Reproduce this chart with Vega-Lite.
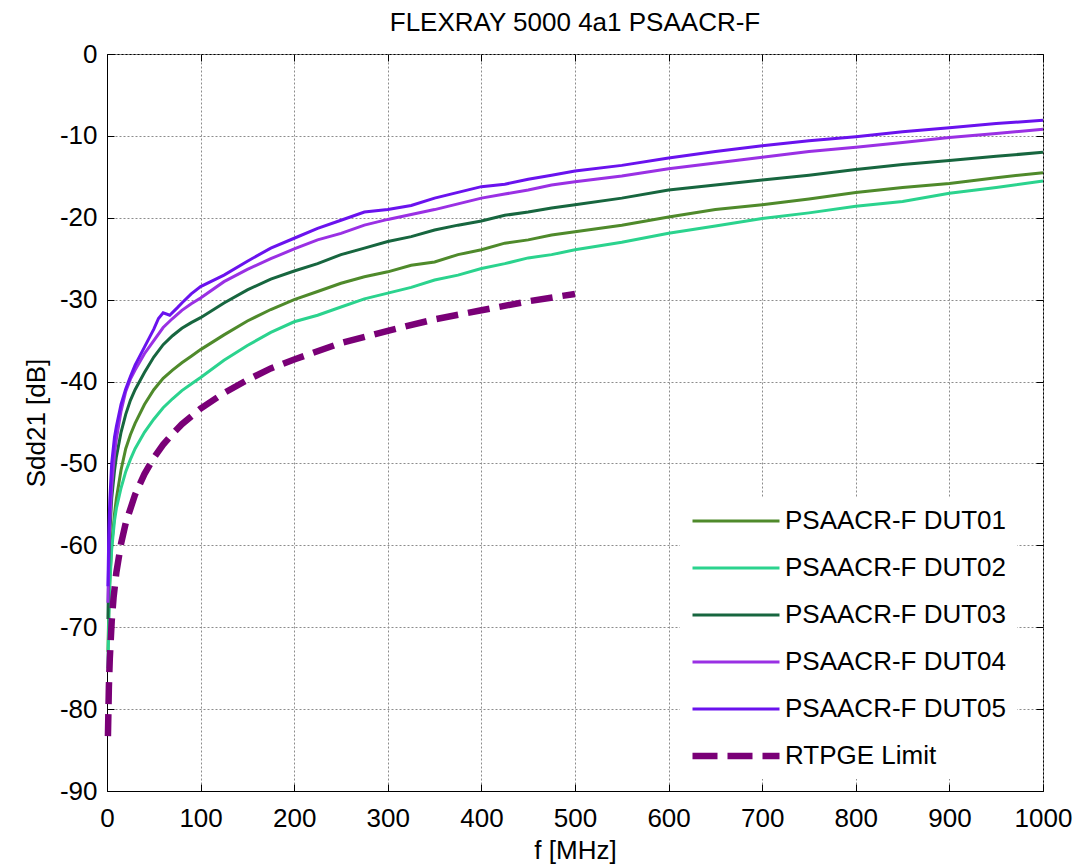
{
  "$schema": "https://vega.github.io/schema/vega-lite/v6.json",
  "autosize": "none",
  "width": 936,
  "height": 737,
  "padding": {"left": 107, "top": 54, "right": 31, "bottom": 73},
  "background": "white",
  "title": {"text": "FLEXRAY 5000 4a1 PSAACR-F", "font": "Liberation Sans", "fontSize": 26, "fontWeight": "normal", "color": "black", "offset": 5, "anchor": "middle"},
  "config": {
    "view": {"stroke": "black", "strokeWidth": 1},
    "axis": {
      "labelFont": "Liberation Sans", "labelFontSize": 26, "labelColor": "black", "labelFlush": false,
      "titleFont": "Liberation Sans", "titleFontSize": 26, "titleFontWeight": "normal", "titleColor": "black",
      "domainColor": "black", "tickColor": "black", "tickSize": -7,
      "gridColor": "#8c8c8c", "gridDash": [2, 2], "gridWidth": 1, "gridOpacity": 1
    },
    "legend": {"labelFont": "Liberation Sans", "labelFontSize": 26, "labelColor": "black"}
  },
  "datasets": {
    "dut": [
      {"s":"PSAACR-F DUT01","f":1,"v":-73},{"s":"PSAACR-F DUT01","f":2,"v":-67.5},{"s":"PSAACR-F DUT01","f":3,"v":-64.2},{"s":"PSAACR-F DUT01","f":5,"v":-60.0},{"s":"PSAACR-F DUT01","f":8,"v":-56.2},{"s":"PSAACR-F DUT01","f":10,"v":-54.3},{"s":"PSAACR-F DUT01","f":15,"v":-50.8},{"s":"PSAACR-F DUT01","f":20,"v":-48.2},{"s":"PSAACR-F DUT01","f":25,"v":-46.5},{"s":"PSAACR-F DUT01","f":30,"v":-45.1},{"s":"PSAACR-F DUT01","f":40,"v":-42.8},{"s":"PSAACR-F DUT01","f":50,"v":-41.0},{"s":"PSAACR-F DUT01","f":60,"v":-39.6},{"s":"PSAACR-F DUT01","f":70,"v":-38.6},{"s":"PSAACR-F DUT01","f":80,"v":-37.7},{"s":"PSAACR-F DUT01","f":90,"v":-36.9},{"s":"PSAACR-F DUT01","f":100,"v":-36.1},{"s":"PSAACR-F DUT01","f":125,"v":-34.3},{"s":"PSAACR-F DUT01","f":150,"v":-32.6},{"s":"PSAACR-F DUT01","f":175,"v":-31.2},{"s":"PSAACR-F DUT01","f":200,"v":-30.0},{"s":"PSAACR-F DUT01","f":225,"v":-29.0},{"s":"PSAACR-F DUT01","f":250,"v":-28.0},{"s":"PSAACR-F DUT01","f":275,"v":-27.2},{"s":"PSAACR-F DUT01","f":300,"v":-26.6},{"s":"PSAACR-F DUT01","f":325,"v":-25.8},{"s":"PSAACR-F DUT01","f":350,"v":-25.4},{"s":"PSAACR-F DUT01","f":375,"v":-24.5},{"s":"PSAACR-F DUT01","f":400,"v":-23.9},{"s":"PSAACR-F DUT01","f":425,"v":-23.1},{"s":"PSAACR-F DUT01","f":450,"v":-22.7},{"s":"PSAACR-F DUT01","f":475,"v":-22.1},{"s":"PSAACR-F DUT01","f":500,"v":-21.7},{"s":"PSAACR-F DUT01","f":550,"v":-20.9},{"s":"PSAACR-F DUT01","f":600,"v":-19.9},{"s":"PSAACR-F DUT01","f":650,"v":-19.0},{"s":"PSAACR-F DUT01","f":700,"v":-18.4},{"s":"PSAACR-F DUT01","f":750,"v":-17.7},{"s":"PSAACR-F DUT01","f":800,"v":-16.9},{"s":"PSAACR-F DUT01","f":850,"v":-16.3},{"s":"PSAACR-F DUT01","f":900,"v":-15.8},{"s":"PSAACR-F DUT01","f":950,"v":-15.1},{"s":"PSAACR-F DUT01","f":1000,"v":-14.5},
      {"s":"PSAACR-F DUT02","f":1,"v":-75},{"s":"PSAACR-F DUT02","f":2,"v":-68.5},{"s":"PSAACR-F DUT02","f":3,"v":-64.8},{"s":"PSAACR-F DUT02","f":5,"v":-60.5},{"s":"PSAACR-F DUT02","f":8,"v":-57.0},{"s":"PSAACR-F DUT02","f":10,"v":-55.5},{"s":"PSAACR-F DUT02","f":15,"v":-53.0},{"s":"PSAACR-F DUT02","f":20,"v":-51.0},{"s":"PSAACR-F DUT02","f":25,"v":-49.5},{"s":"PSAACR-F DUT02","f":30,"v":-48.2},{"s":"PSAACR-F DUT02","f":40,"v":-46.2},{"s":"PSAACR-F DUT02","f":50,"v":-44.6},{"s":"PSAACR-F DUT02","f":60,"v":-43.2},{"s":"PSAACR-F DUT02","f":70,"v":-42.1},{"s":"PSAACR-F DUT02","f":80,"v":-41.1},{"s":"PSAACR-F DUT02","f":90,"v":-40.3},{"s":"PSAACR-F DUT02","f":100,"v":-39.5},{"s":"PSAACR-F DUT02","f":125,"v":-37.4},{"s":"PSAACR-F DUT02","f":150,"v":-35.6},{"s":"PSAACR-F DUT02","f":175,"v":-34.0},{"s":"PSAACR-F DUT02","f":200,"v":-32.7},{"s":"PSAACR-F DUT02","f":225,"v":-31.9},{"s":"PSAACR-F DUT02","f":250,"v":-30.9},{"s":"PSAACR-F DUT02","f":275,"v":-29.9},{"s":"PSAACR-F DUT02","f":300,"v":-29.2},{"s":"PSAACR-F DUT02","f":325,"v":-28.5},{"s":"PSAACR-F DUT02","f":350,"v":-27.6},{"s":"PSAACR-F DUT02","f":375,"v":-27.0},{"s":"PSAACR-F DUT02","f":400,"v":-26.2},{"s":"PSAACR-F DUT02","f":425,"v":-25.6},{"s":"PSAACR-F DUT02","f":450,"v":-24.9},{"s":"PSAACR-F DUT02","f":475,"v":-24.5},{"s":"PSAACR-F DUT02","f":500,"v":-23.9},{"s":"PSAACR-F DUT02","f":550,"v":-23.0},{"s":"PSAACR-F DUT02","f":600,"v":-21.9},{"s":"PSAACR-F DUT02","f":650,"v":-21.0},{"s":"PSAACR-F DUT02","f":700,"v":-20.1},{"s":"PSAACR-F DUT02","f":750,"v":-19.4},{"s":"PSAACR-F DUT02","f":800,"v":-18.6},{"s":"PSAACR-F DUT02","f":850,"v":-18.0},{"s":"PSAACR-F DUT02","f":900,"v":-17.0},{"s":"PSAACR-F DUT02","f":950,"v":-16.3},{"s":"PSAACR-F DUT02","f":1000,"v":-15.5},
      {"s":"PSAACR-F DUT03","f":1,"v":-69},{"s":"PSAACR-F DUT03","f":2,"v":-62},{"s":"PSAACR-F DUT03","f":3,"v":-58.5},{"s":"PSAACR-F DUT03","f":5,"v":-54.3},{"s":"PSAACR-F DUT03","f":8,"v":-50.9},{"s":"PSAACR-F DUT03","f":10,"v":-49.2},{"s":"PSAACR-F DUT03","f":15,"v":-46.2},{"s":"PSAACR-F DUT03","f":20,"v":-44.0},{"s":"PSAACR-F DUT03","f":25,"v":-42.3},{"s":"PSAACR-F DUT03","f":30,"v":-41.0},{"s":"PSAACR-F DUT03","f":40,"v":-38.9},{"s":"PSAACR-F DUT03","f":50,"v":-37.0},{"s":"PSAACR-F DUT03","f":60,"v":-35.5},{"s":"PSAACR-F DUT03","f":70,"v":-34.4},{"s":"PSAACR-F DUT03","f":80,"v":-33.5},{"s":"PSAACR-F DUT03","f":90,"v":-32.8},{"s":"PSAACR-F DUT03","f":100,"v":-32.2},{"s":"PSAACR-F DUT03","f":125,"v":-30.4},{"s":"PSAACR-F DUT03","f":150,"v":-28.8},{"s":"PSAACR-F DUT03","f":175,"v":-27.5},{"s":"PSAACR-F DUT03","f":200,"v":-26.5},{"s":"PSAACR-F DUT03","f":225,"v":-25.6},{"s":"PSAACR-F DUT03","f":250,"v":-24.5},{"s":"PSAACR-F DUT03","f":275,"v":-23.7},{"s":"PSAACR-F DUT03","f":300,"v":-22.9},{"s":"PSAACR-F DUT03","f":325,"v":-22.3},{"s":"PSAACR-F DUT03","f":350,"v":-21.5},{"s":"PSAACR-F DUT03","f":375,"v":-20.9},{"s":"PSAACR-F DUT03","f":400,"v":-20.4},{"s":"PSAACR-F DUT03","f":425,"v":-19.7},{"s":"PSAACR-F DUT03","f":450,"v":-19.3},{"s":"PSAACR-F DUT03","f":475,"v":-18.8},{"s":"PSAACR-F DUT03","f":500,"v":-18.4},{"s":"PSAACR-F DUT03","f":550,"v":-17.6},{"s":"PSAACR-F DUT03","f":600,"v":-16.6},{"s":"PSAACR-F DUT03","f":650,"v":-16.0},{"s":"PSAACR-F DUT03","f":700,"v":-15.4},{"s":"PSAACR-F DUT03","f":750,"v":-14.8},{"s":"PSAACR-F DUT03","f":800,"v":-14.1},{"s":"PSAACR-F DUT03","f":850,"v":-13.5},{"s":"PSAACR-F DUT03","f":900,"v":-13.0},{"s":"PSAACR-F DUT03","f":950,"v":-12.5},{"s":"PSAACR-F DUT03","f":1000,"v":-12.0},
      {"s":"PSAACR-F DUT04","f":1,"v":-67},{"s":"PSAACR-F DUT04","f":2,"v":-60.5},{"s":"PSAACR-F DUT04","f":3,"v":-57.1},{"s":"PSAACR-F DUT04","f":5,"v":-52.8},{"s":"PSAACR-F DUT04","f":8,"v":-48.9},{"s":"PSAACR-F DUT04","f":10,"v":-47.0},{"s":"PSAACR-F DUT04","f":15,"v":-43.6},{"s":"PSAACR-F DUT04","f":20,"v":-41.2},{"s":"PSAACR-F DUT04","f":25,"v":-39.7},{"s":"PSAACR-F DUT04","f":30,"v":-38.6},{"s":"PSAACR-F DUT04","f":40,"v":-36.6},{"s":"PSAACR-F DUT04","f":50,"v":-35.0},{"s":"PSAACR-F DUT04","f":60,"v":-33.4},{"s":"PSAACR-F DUT04","f":70,"v":-32.3},{"s":"PSAACR-F DUT04","f":80,"v":-31.3},{"s":"PSAACR-F DUT04","f":90,"v":-30.5},{"s":"PSAACR-F DUT04","f":100,"v":-29.8},{"s":"PSAACR-F DUT04","f":125,"v":-27.8},{"s":"PSAACR-F DUT04","f":150,"v":-26.3},{"s":"PSAACR-F DUT04","f":175,"v":-25.0},{"s":"PSAACR-F DUT04","f":200,"v":-23.8},{"s":"PSAACR-F DUT04","f":225,"v":-22.7},{"s":"PSAACR-F DUT04","f":250,"v":-21.9},{"s":"PSAACR-F DUT04","f":275,"v":-20.9},{"s":"PSAACR-F DUT04","f":300,"v":-20.2},{"s":"PSAACR-F DUT04","f":325,"v":-19.6},{"s":"PSAACR-F DUT04","f":350,"v":-19.0},{"s":"PSAACR-F DUT04","f":375,"v":-18.3},{"s":"PSAACR-F DUT04","f":400,"v":-17.6},{"s":"PSAACR-F DUT04","f":425,"v":-17.1},{"s":"PSAACR-F DUT04","f":450,"v":-16.6},{"s":"PSAACR-F DUT04","f":475,"v":-16.0},{"s":"PSAACR-F DUT04","f":500,"v":-15.6},{"s":"PSAACR-F DUT04","f":550,"v":-14.9},{"s":"PSAACR-F DUT04","f":600,"v":-14.0},{"s":"PSAACR-F DUT04","f":650,"v":-13.3},{"s":"PSAACR-F DUT04","f":700,"v":-12.6},{"s":"PSAACR-F DUT04","f":750,"v":-11.9},{"s":"PSAACR-F DUT04","f":800,"v":-11.4},{"s":"PSAACR-F DUT04","f":850,"v":-10.8},{"s":"PSAACR-F DUT04","f":900,"v":-10.2},{"s":"PSAACR-F DUT04","f":950,"v":-9.7},{"s":"PSAACR-F DUT04","f":1000,"v":-9.2},
      {"s":"PSAACR-F DUT05","f":1,"v":-65},{"s":"PSAACR-F DUT05","f":2,"v":-58},{"s":"PSAACR-F DUT05","f":3,"v":-54.5},{"s":"PSAACR-F DUT05","f":5,"v":-50},{"s":"PSAACR-F DUT05","f":8,"v":-46.8},{"s":"PSAACR-F DUT05","f":10,"v":-45.5},{"s":"PSAACR-F DUT05","f":15,"v":-42.8},{"s":"PSAACR-F DUT05","f":20,"v":-40.9},{"s":"PSAACR-F DUT05","f":25,"v":-39.4},{"s":"PSAACR-F DUT05","f":30,"v":-38.0},{"s":"PSAACR-F DUT05","f":40,"v":-35.8},{"s":"PSAACR-F DUT05","f":50,"v":-33.6},{"s":"PSAACR-F DUT05","f":55,"v":-32.3},{"s":"PSAACR-F DUT05","f":60,"v":-31.6},{"s":"PSAACR-F DUT05","f":67,"v":-31.9},{"s":"PSAACR-F DUT05","f":75,"v":-31.0},{"s":"PSAACR-F DUT05","f":80,"v":-30.4},{"s":"PSAACR-F DUT05","f":90,"v":-29.3},{"s":"PSAACR-F DUT05","f":100,"v":-28.4},{"s":"PSAACR-F DUT05","f":125,"v":-27.0},{"s":"PSAACR-F DUT05","f":150,"v":-25.3},{"s":"PSAACR-F DUT05","f":175,"v":-23.7},{"s":"PSAACR-F DUT05","f":200,"v":-22.5},{"s":"PSAACR-F DUT05","f":225,"v":-21.3},{"s":"PSAACR-F DUT05","f":250,"v":-20.3},{"s":"PSAACR-F DUT05","f":275,"v":-19.3},{"s":"PSAACR-F DUT05","f":300,"v":-19.0},{"s":"PSAACR-F DUT05","f":325,"v":-18.5},{"s":"PSAACR-F DUT05","f":350,"v":-17.6},{"s":"PSAACR-F DUT05","f":375,"v":-16.9},{"s":"PSAACR-F DUT05","f":400,"v":-16.2},{"s":"PSAACR-F DUT05","f":425,"v":-15.9},{"s":"PSAACR-F DUT05","f":450,"v":-15.3},{"s":"PSAACR-F DUT05","f":475,"v":-14.8},{"s":"PSAACR-F DUT05","f":500,"v":-14.3},{"s":"PSAACR-F DUT05","f":550,"v":-13.6},{"s":"PSAACR-F DUT05","f":600,"v":-12.7},{"s":"PSAACR-F DUT05","f":650,"v":-11.9},{"s":"PSAACR-F DUT05","f":700,"v":-11.2},{"s":"PSAACR-F DUT05","f":750,"v":-10.6},{"s":"PSAACR-F DUT05","f":800,"v":-10.1},{"s":"PSAACR-F DUT05","f":850,"v":-9.5},{"s":"PSAACR-F DUT05","f":900,"v":-9.0},{"s":"PSAACR-F DUT05","f":950,"v":-8.5},{"s":"PSAACR-F DUT05","f":1000,"v":-8.1}
    ],
    "limit": [
      {"s":"RTPGE Limit","f":1,"v":-83.3},{"s":"RTPGE Limit","f":2,"v":-77.3},{"s":"RTPGE Limit","f":3,"v":-73.8},{"s":"RTPGE Limit","f":5,"v":-69.3},{"s":"RTPGE Limit","f":7,"v":-66.4},{"s":"RTPGE Limit","f":10,"v":-63.3},{"s":"RTPGE Limit","f":15,"v":-59.8},{"s":"RTPGE Limit","f":20,"v":-57.3},{"s":"RTPGE Limit","f":30,"v":-53.8},{"s":"RTPGE Limit","f":40,"v":-51.3},{"s":"RTPGE Limit","f":50,"v":-49.3},{"s":"RTPGE Limit","f":60,"v":-47.7},{"s":"RTPGE Limit","f":70,"v":-46.4},{"s":"RTPGE Limit","f":80,"v":-45.2},{"s":"RTPGE Limit","f":100,"v":-43.3},{"s":"RTPGE Limit","f":125,"v":-41.4},{"s":"RTPGE Limit","f":150,"v":-39.8},{"s":"RTPGE Limit","f":175,"v":-38.4},{"s":"RTPGE Limit","f":200,"v":-37.3},{"s":"RTPGE Limit","f":250,"v":-35.3},{"s":"RTPGE Limit","f":300,"v":-33.8},{"s":"RTPGE Limit","f":350,"v":-32.4},{"s":"RTPGE Limit","f":400,"v":-31.3},{"s":"RTPGE Limit","f":450,"v":-30.2},{"s":"RTPGE Limit","f":500,"v":-29.3}
    ]
  },
  "resolve": {"axis": {"x": "independent", "y": "independent"}},
  "layer": [
    {"data": {"name": "dut"}, "mark": {"type": "line", "strokeWidth": 3},
      "encoding": {
        "x": {"field": "f", "type": "quantitative", "scale": {"domain": [0, 1000], "nice": false},
          "axis": {"values": [0,100,200,300,400,500,600,700,800,900,1000], "labelExpr": "'' + datum.value", "title": "f [MHz]", "labelPadding": 21, "titlePadding": 6}},
        "y": {"field": "v", "type": "quantitative", "scale": {"domain": [-90, 0], "nice": false},
          "axis": {"values": [-90,-80,-70,-60,-50,-40,-30,-20,-10,0], "labelExpr": "'' + datum.value", "title": "Sdd21 [dB]", "labelPadding": 17, "titlePadding": 10}},
        "color": {"field": "s", "type": "nominal",
          "scale": {"domain": ["PSAACR-F DUT01","PSAACR-F DUT02","PSAACR-F DUT03","PSAACR-F DUT04","PSAACR-F DUT05","RTPGE Limit"],
                    "range": ["#4f8a2b","#2bd38e","#17663f","#9a30e4","#6a12ee","#7a0077"]},
          "legend": {"title": null, "orient": "none", "legendX": 573, "legendY": 444, "direction": "vertical",
            "symbolType": "stroke", "symbolSize": 7569, "symbolStrokeWidth": 3, "symbolOffset": 33, "labelOffset": 36, "labelLimit": 400,
            "fillColor": "white", "padding": 10, "rowPadding": 21, "labelFontSize": 26,
            "encode": {"symbols": {"update": {
              "strokeDash": {"signal": "datum.value === 'RTPGE Limit' ? [25, 10] : [1, 0]"},
              "strokeWidth": {"signal": "datum.value === 'RTPGE Limit' ? 6.5 : 3"}}}}}}
      }},
    {"data": {"name": "limit"}, "mark": {"type": "line", "strokeWidth": 6.5, "strokeDash": [22, 10]},
      "encoding": {
        "x": {"field": "f", "type": "quantitative", "scale": {"domain": [0, 1000], "nice": false},
          "axis": {"orient": "top", "values": [0,100,200,300,400,500,600,700,800,900,1000], "labels": false, "grid": false, "domain": false, "title": null, "ticks": true, "tickSize": -7}},
        "y": {"field": "v", "type": "quantitative", "scale": {"domain": [-90, 0], "nice": false},
          "axis": {"orient": "right", "values": [-90,-80,-70,-60,-50,-40,-30,-20,-10,0], "labels": false, "grid": false, "domain": false, "title": null, "ticks": true, "tickSize": -7}},
        "color": {"field": "s", "type": "nominal"}
      }}
  ]
}
